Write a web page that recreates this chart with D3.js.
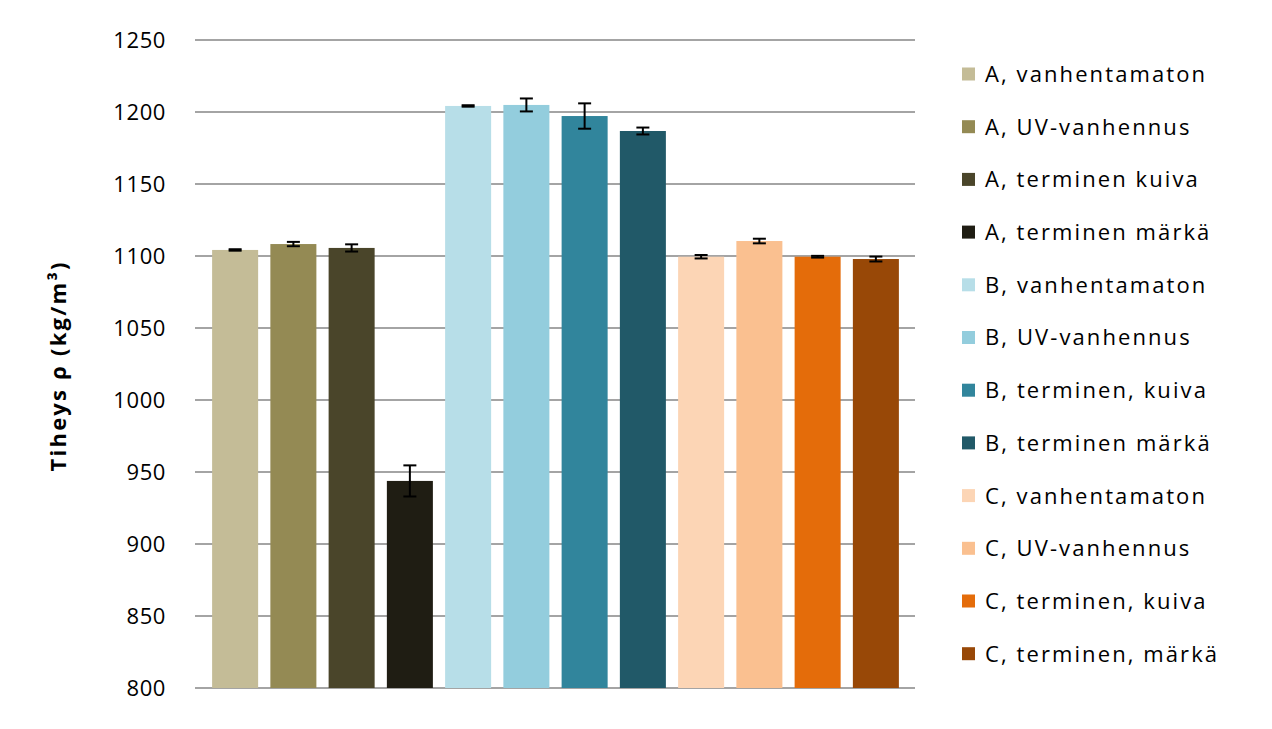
<!DOCTYPE html>
<html><head><meta charset="utf-8">
<script src="https://cdn.jsdelivr.net/npm/d3@7"></script>
<style>body{margin:0;background:#fff;} svg{display:block;}</style>
</head><body>
<svg id="c" width="1272" height="729"></svg>
<script>
const categories = ["A, vanhentamaton","A, UV-vanhennus","A, terminen kuiva","A, terminen märkä",
 "B, vanhentamaton","B, UV-vanhennus","B, terminen, kuiva","B, terminen märkä",
 "C, vanhentamaton","C, UV-vanhennus","C, terminen, kuiva","C, terminen, märkä"];
const values = [1104.2,1108.3,1105.6,943.8,1204.2,1204.9,1197.2,1186.8,1099.5,1110.4,1099.5,1097.9];
const errors = [0.5,1.5,2.5,10.8,0.5,4.5,8.8,2.4,1.2,1.6,0.6,1.7];
const colors = ["#C4BC97","#948A54","#4A452A","#1F1D13","#B7DEE8","#93CDDD","#31859C","#215968","#FCD5B5","#FAC090","#E46C0A","#984807"];
const yTicks = [800,850,900,950,1000,1050,1100,1150,1200,1250];
const yLabel = "Tiheys ρ (kg/m³)";

const svg = d3.select("#c");
const font = "'Open Sans', sans-serif";
const y = d3.scaleLinear().domain([800,1250]).range([688,40]);
const x = d3.scaleBand().domain(categories).range([206,905]).paddingInner(0.21).paddingOuter(0.105);

// grid
svg.append("g").selectAll("line").data(yTicks).join("line")
  .attr("x1",195).attr("x2",915).attr("y1",d=>y(d)).attr("y2",d=>y(d))
  .attr("stroke","#868686").attr("stroke-width",1.5);

// y axis labels
const yAxis = d3.axisLeft(y).tickValues(yTicks).tickFormat(d3.format("d")).tickSize(0).tickPadding(0);
const ga = svg.append("g").attr("transform","translate(166,0)").call(yAxis);
ga.select(".domain").remove();
ga.selectAll("text").attr("font-family",font).attr("font-size",22).attr("fill","#000")
  .attr("letter-spacing",0.6);

// bars
svg.append("g").selectAll("rect").data(categories).join("rect")
  .attr("x",d=>x(d)).attr("width",x.bandwidth())
  .attr("y",(d,i)=>y(values[i])).attr("height",(d,i)=>y(800)-y(values[i]))
  .attr("fill",(d,i)=>colors[i]);

// error bars
const eg = svg.append("g").attr("stroke","#000").attr("stroke-width",2);
categories.forEach((c,i)=>{
  const cx = x(c)+x.bandwidth()/2;
  const y1 = y(values[i]+errors[i]), y2 = y(values[i]-errors[i]);
  eg.append("line").attr("x1",cx).attr("x2",cx).attr("y1",y1).attr("y2",y2);
  eg.append("line").attr("x1",cx-6.5).attr("x2",cx+6.5).attr("y1",y1).attr("y2",y1);
  eg.append("line").attr("x1",cx-6.5).attr("x2",cx+6.5).attr("y1",y2).attr("y2",y2);
});

// y label
const yl = svg.append("text").attr("transform","translate(66,367) rotate(-90)")
  .attr("text-anchor","middle").attr("font-family",font).attr("font-weight","bold")
  .attr("font-size",22).text(yLabel);
yl.attr("textLength",209).attr("lengthAdjust","spacing");

// legend
const lg = svg.append("g");
categories.forEach((c,i)=>{
  const ly = 74 + i*52.7;
  lg.append("rect").attr("x",962).attr("y",ly-6.5).attr("width",13).attr("height",13).attr("fill",colors[i]);
  lg.append("text").attr("x",985).attr("y",ly).attr("dy","0.36em")
    .attr("font-family",font).attr("font-size",22).attr("fill","#000").text(c);
});
const first = lg.select("text").node();
const w0 = first.getComputedTextLength();
const ls = Math.max(0, (220 - w0) / (categories[0].length - 1));
lg.selectAll("text").attr("letter-spacing", ls);
</script>
</body></html>
